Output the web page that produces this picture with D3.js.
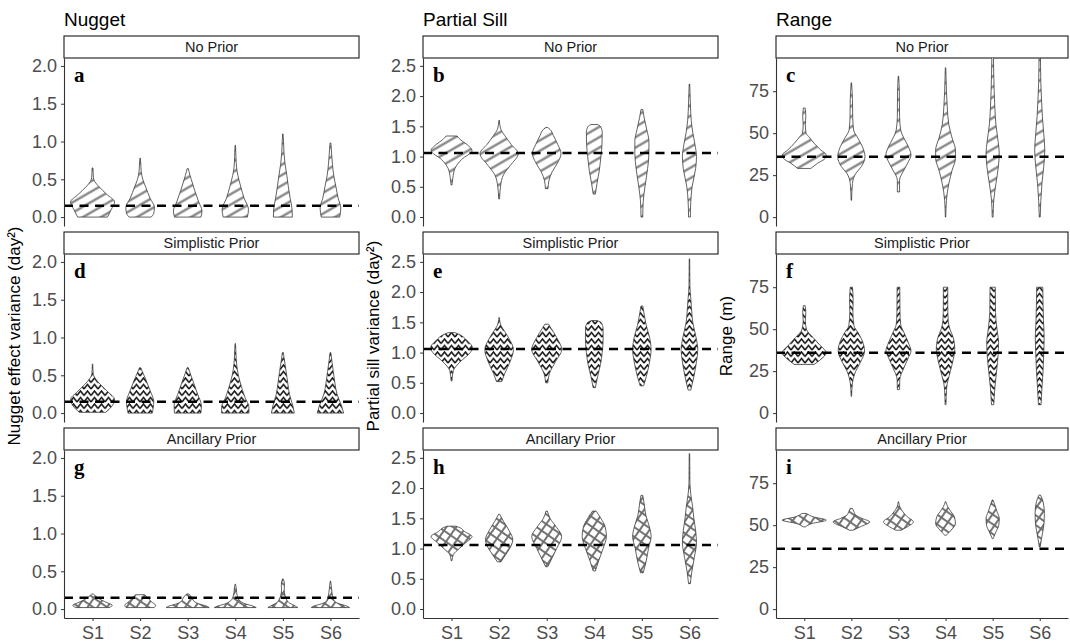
<!DOCTYPE html>
<html>
<head>
<meta charset="utf-8">
<script src="https://cdn.jsdelivr.net/npm/d3@7"></script>
<style>
body { margin: 0; background: #fff; }
</style>
</head>
<body>
<div id="chart"></div>
<script>

var sites = ["S1", "S2", "S3", "S4", "S5", "S6"];
var priors = ["No Prior", "Simplistic Prior", "Ancillary Prior"];
var params = ["Nugget", "Partial Sill", "Range"];
var axisTitles = ["Nugget effect variance (day\u00b2)", "Partial sill variance (day\u00b2)", "Range (m)"];
var yTicks = [[0, 0.5, 1, 1.5, 2], [0, 0.5, 1, 1.5, 2, 2.5], [0, 25, 50, 75]];
var yDomains = [[-0.118, 2.105], [-0.148, 2.63], [-5.3, 94.8]];
var trueValues = [0.15, 1.06, 36];
var letters = [["a", "d", "g"], ["b", "e", "h"], ["c", "f", "i"]];

// violin outlines, one per site: [value, relative half width]
var nuggetNo = [
    [[0,0.68],[0.1,0.85],[0.2,1.0],[0.3,0.65],[0.4,0.3],[0.47,0.1],[0.52,0.04],[0.65,0.02]],
    [[0,0.5],[0.05,0.62],[0.13,0.65],[0.25,0.45],[0.4,0.25],[0.5,0.12],[0.6,0.05],[0.7,0.03],[0.78,0.01]],
    [[0,0.6],[0.08,0.65],[0.2,0.5],[0.35,0.32],[0.5,0.16],[0.6,0.06],[0.64,0.03]],
    [[0,0.55],[0.1,0.6],[0.25,0.4],[0.4,0.25],[0.55,0.12],[0.65,0.06],[0.8,0.03],[0.95,0.01]],
    [[0,0.43],[0.1,0.42],[0.25,0.33],[0.4,0.25],[0.55,0.18],[0.7,0.1],[0.85,0.05],[1.0,0.03],[1.1,0.01]],
    [[0,0.42],[0.12,0.47],[0.25,0.35],[0.4,0.25],[0.55,0.15],[0.7,0.09],[0.85,0.05],[0.98,0.02]]
];
var nuggetSimple = [
    [[0.01,0.6],[0.08,0.85],[0.18,1.0],[0.28,0.7],[0.38,0.35],[0.46,0.12],[0.52,0.03],[0.65,0.01]],
    [[0,0.55],[0.15,0.62],[0.3,0.45],[0.45,0.25],[0.55,0.1],[0.6,0.03]],
    [[0,0.6],[0.1,0.62],[0.25,0.45],[0.4,0.27],[0.52,0.12],[0.6,0.03]],
    [[0,0.62],[0.08,0.62],[0.2,0.45],[0.35,0.28],[0.5,0.14],[0.65,0.06],[0.8,0.03],[0.92,0.01]],
    [[0,0.52],[0.1,0.45],[0.25,0.3],[0.4,0.22],[0.55,0.15],[0.7,0.07],[0.8,0.02]],
    [[0,0.6],[0.1,0.5],[0.25,0.3],[0.4,0.2],[0.55,0.13],[0.7,0.06],[0.8,0.02]]
];
var nuggetAnc = [
    [[0.02,0.75],[0.05,0.9],[0.08,0.7],[0.12,0.4],[0.17,0.15],[0.2,0.03]],
    [[0.02,0.64],[0.05,0.7],[0.1,0.5],[0.15,0.35],[0.19,0.2]],
    [[0.02,0.98],[0.04,0.85],[0.07,0.5],[0.1,0.3],[0.15,0.2],[0.2,0.05]],
    [[0.02,0.95],[0.04,0.8],[0.07,0.45],[0.1,0.25],[0.15,0.12],[0.22,0.06],[0.28,0.04],[0.33,0.01]],
    [[0.02,0.68],[0.05,0.5],[0.08,0.3],[0.12,0.18],[0.18,0.1],[0.25,0.06],[0.32,0.07],[0.37,0.05],[0.4,0.01]],
    [[0.02,0.87],[0.04,0.75],[0.07,0.4],[0.1,0.2],[0.15,0.12],[0.22,0.07],[0.3,0.04],[0.37,0.01]]
];
var sillNo = [
    [[0.53,0.02],[0.65,0.06],[0.8,0.15],[0.95,0.45],[1.1,0.93],[1.2,0.7],[1.28,0.4],[1.34,0.25]],
    [[0.3,0.02],[0.5,0.06],[0.7,0.2],[0.85,0.5],[1.05,0.87],[1.2,0.55],[1.35,0.25],[1.45,0.08],[1.6,0.01]],
    [[0.47,0.06],[0.6,0.1],[0.75,0.25],[0.9,0.5],[1.05,0.65],[1.2,0.5],[1.35,0.3],[1.45,0.15],[1.48,0.05]],
    [[0.38,0.05],[0.55,0.12],[0.75,0.22],[1.0,0.3],[1.2,0.35],[1.4,0.36],[1.5,0.28],[1.53,0.15]],
    [[0,0.04],[0.25,0.06],[0.5,0.14],[0.8,0.26],[1.05,0.32],[1.25,0.32],[1.45,0.22],[1.65,0.1],[1.78,0.04]],
    [[0,0.04],[0.25,0.06],[0.5,0.12],[0.8,0.28],[1.0,0.32],[1.2,0.25],[1.4,0.15],[1.6,0.08],[1.9,0.04],[2.2,0.01]]
];
var sillSimple = [
    [[0.53,0.02],[0.7,0.08],[0.85,0.4],[1.0,0.85],[1.08,0.95],[1.2,0.7],[1.3,0.35],[1.33,0.15]],
    [[0.52,0.12],[0.65,0.25],[0.85,0.5],[1.05,0.65],[1.2,0.5],[1.35,0.25],[1.45,0.08],[1.58,0.01]],
    [[0.5,0.05],[0.65,0.12],[0.85,0.4],[1.05,0.68],[1.25,0.45],[1.4,0.2],[1.47,0.08]],
    [[0.42,0.05],[0.6,0.15],[0.8,0.28],[1.0,0.36],[1.2,0.4],[1.4,0.4],[1.5,0.3],[1.53,0.12]],
    [[0.45,0.08],[0.6,0.2],[0.85,0.35],[1.05,0.42],[1.25,0.35],[1.45,0.2],[1.6,0.12],[1.77,0.04]],
    [[0.38,0.06],[0.6,0.2],[0.85,0.32],[1.05,0.38],[1.25,0.3],[1.5,0.15],[1.7,0.1],[1.9,0.06],[2.1,0.02],[2.55,0.01]]
];
var sillAnc = [
    [[0.8,0.02],[0.9,0.08],[1.0,0.35],[1.1,0.65],[1.2,0.93],[1.28,0.6],[1.35,0.35],[1.37,0.2]],
    [[0.78,0.08],[0.9,0.3],[1.05,0.55],[1.15,0.62],[1.3,0.45],[1.45,0.2],[1.57,0.02]],
    [[0.7,0.05],[0.85,0.25],[1.0,0.45],[1.2,0.68],[1.35,0.45],[1.5,0.15],[1.62,0.03]],
    [[0.63,0.05],[0.8,0.2],[1.0,0.4],[1.2,0.55],[1.35,0.5],[1.5,0.3],[1.62,0.08]],
    [[0.6,0.06],[0.8,0.2],[1.0,0.3],[1.2,0.42],[1.35,0.35],[1.55,0.18],[1.75,0.1],[1.88,0.04]],
    [[0.42,0.04],[0.6,0.1],[0.85,0.22],[1.1,0.32],[1.3,0.28],[1.5,0.2],[1.7,0.14],[1.9,0.06],[2.1,0.02],[2.57,0.01]]
];
var rangeNo = [
    [[29,0.3],[32,0.6],[35,0.95],[37,1.0],[40,0.75],[44,0.45],[48,0.2],[50,0.08],[55,0.05],[60,0.07],[65,0.04]],
    [[10,0.01],[20,0.05],[26,0.2],[30,0.45],[36,0.62],[42,0.5],[47,0.3],[52,0.1],[60,0.06],[70,0.05],[80,0.01]],
    [[15,0.05],[22,0.05],[28,0.25],[33,0.45],[37,0.57],[42,0.45],[47,0.25],[52,0.1],[60,0.05],[75,0.04],[84,0.01]],
    [[0,0.01],[10,0.04],[20,0.15],[28,0.3],[35,0.45],[40,0.45],[47,0.3],[55,0.15],[65,0.08],[75,0.04],[89,0.01]],
    [[0,0.02],[10,0.05],[20,0.15],[30,0.26],[38,0.3],[45,0.25],[55,0.15],[65,0.1],[75,0.07],[85,0.05],[100,0.03]],
    [[0,0.02],[10,0.05],[20,0.1],[30,0.18],[40,0.23],[50,0.18],[60,0.12],[70,0.08],[80,0.05],[100,0.03]]
];
var rangeSimple = [
    [[29,0.45],[32,0.75],[36,1.0],[40,0.75],[45,0.4],[50,0.1],[55,0.05],[60,0.07],[64,0.04]],
    [[10,0.01],[18,0.05],[25,0.2],[30,0.4],[37,0.6],[43,0.5],[48,0.3],[52,0.12],[60,0.07],[68,0.08],[75,0.05]],
    [[14,0.05],[20,0.06],[27,0.25],[33,0.45],[37,0.57],[42,0.45],[48,0.25],[53,0.1],[60,0.07],[75,0.06]],
    [[5,0.02],[15,0.05],[25,0.22],[32,0.35],[38,0.42],[45,0.35],[50,0.2],[55,0.12],[65,0.1],[75,0.1]],
    [[5,0.05],[15,0.1],[25,0.18],[35,0.25],[42,0.27],[50,0.2],[60,0.13],[75,0.12]],
    [[5,0.06],[15,0.1],[25,0.15],[35,0.18],[45,0.2],[55,0.17],[65,0.15],[75,0.14]]
];
var rangeAnc = [
    [[49,0.05],[51,0.35],[53,1.0],[55,0.4],[57,0.1]],
    [[47,0.08],[49,0.4],[52,0.83],[54,0.5],[56,0.2],[58,0.12],[60,0.05]],
    [[47,0.12],[49,0.4],[52,0.68],[55,0.4],[58,0.2],[61,0.06],[64,0.01]],
    [[44,0.03],[47,0.25],[51,0.45],[55,0.4],[58,0.25],[61,0.1],[64,0.01]],
    [[42,0.02],[46,0.15],[50,0.28],[54,0.3],[58,0.2],[62,0.1],[65,0.02]],
    [[37,0.02],[42,0.08],[47,0.15],[52,0.2],[57,0.21],[62,0.18],[66,0.1],[68,0.03]]
];

var violins = [
    [nuggetNo, nuggetSimple, nuggetAnc],
    [sillNo, sillSimple, sillAnc],
    [rangeNo, rangeSimple, rangeAnc]
];

var width = 1070, height = 642;
var cols = [{left: 64, width: 295}, {left: 423, width: 295}, {left: 776, width: 292}];
var rowTops = [36, 232, 428];
var stripH = 22, panelH = 168;
var fills = ["url(#stripes)", "url(#zigzag)", "url(#hatch)"];
var sans = "'Liberation Sans', Arial, sans-serif";
var serif = "'Liberation Serif', 'DejaVu Serif', serif";

var svg = d3.select("#chart")
    .append("svg")
    .attr("width", width)
    .attr("height", height)
    .style("font-family", sans);

// fill patterns
var defs = svg.append("defs");

var p1 = defs.append("pattern")
    .attr("id", "stripes")
    .attr("patternUnits", "userSpaceOnUse")
    .attr("width", 10).attr("height", 9)
    .attr("patternTransform", "rotate(-30)");
p1.append("rect").attr("width", 10).attr("height", 9).attr("fill", "#fff");
p1.append("line").attr("x1", 0).attr("x2", 10).attr("y1", 4.5).attr("y2", 4.5)
    .attr("stroke", "#7d7d7d").attr("stroke-width", 2.2);

var p2 = defs.append("pattern")
    .attr("id", "zigzag")
    .attr("patternUnits", "userSpaceOnUse")
    .attr("width", 7).attr("height", 6.5);
p2.append("rect").attr("width", 7).attr("height", 6.5).attr("fill", "#fff");
p2.append("path").attr("d", "M0,5.5 L3.5,1 L7,5.5")
    .attr("fill", "none").attr("stroke", "#111").attr("stroke-width", 1.5);

var p3 = defs.append("pattern")
    .attr("id", "hatch")
    .attr("patternUnits", "userSpaceOnUse")
    .attr("width", 8).attr("height", 8)
    .attr("patternTransform", "rotate(35)");
p3.append("rect").attr("width", 8).attr("height", 8).attr("fill", "#fff");
p3.append("line").attr("x1", 0).attr("x2", 8).attr("y1", 4).attr("y2", 4)
    .attr("stroke", "#6e6e6e").attr("stroke-width", 1.9);
p3.append("line").attr("x1", 4).attr("x2", 4).attr("y1", 0).attr("y2", 8)
    .attr("stroke", "#6e6e6e").attr("stroke-width", 1.9);

cols.forEach(function(col, c) {

    // column title
    svg.append("text")
        .attr("x", col.left)
        .attr("y", 26)
        .attr("font-size", 19)
        .attr("fill", "#000")
        .text(params[c]);

    // y axis title
    svg.append("text")
        .attr("transform", "translate(" + (col.left - 44) + ",336) rotate(-90)")
        .attr("text-anchor", "middle")
        .attr("font-size", 17)
        .attr("fill", "#000")
        .text(axisTitles[c]);

    var x = d3.scalePoint()
        .domain(sites)
        .range([col.left, col.left + col.width])
        .padding(0.6);

    var w = d3.scaleLinear()
        .domain([0, 1])
        .range([0, 22]);

    rowTops.forEach(function(top, r) {
        var pTop = top + stripH;

        var y = d3.scaleLinear()
            .domain(yDomains[c])
            .range([pTop + panelH, pTop]);

        // strip
        svg.append("rect")
            .attr("x", col.left).attr("y", top)
            .attr("width", col.width).attr("height", stripH)
            .attr("fill", "#fff").attr("stroke", "#1a1a1a").attr("stroke-width", 1.1);
        svg.append("text")
            .attr("x", col.left + col.width / 2)
            .attr("y", top + 16)
            .attr("text-anchor", "middle")
            .attr("font-size", 14.5)
            .attr("fill", "#1a1a1a")
            .text(priors[r]);

        var clipId = "clip" + c + r;
        defs.append("clipPath").attr("id", clipId)
            .append("rect")
            .attr("x", col.left).attr("y", pTop)
            .attr("width", col.width).attr("height", panelH);

        var g = svg.append("g").attr("clip-path", "url(#" + clipId + ")");

        var area = d3.area()
            .curve(d3.curveMonotoneY)
            .y(function(d) { return y(d[0]); });

        g.selectAll("path.violin")
            .data(violins[c][r])
            .enter()
            .append("path")
                .attr("class", "violin")
                .attr("d", function(d, i) {
                    var cx = x(sites[i]);
                    return area
                        .x0(function(p) { return cx - w(p[1]); })
                        .x1(function(p) { return cx + w(p[1]); })(d);
                })
                .attr("fill", fills[r])
                .attr("stroke", "#3a3a3a")
                .attr("stroke-width", 0.8);

        // true value line
        g.append("line")
            .attr("x1", col.left).attr("x2", col.left + col.width)
            .attr("y1", y(trueValues[c])).attr("y2", y(trueValues[c]))
            .attr("stroke", "#000")
            .attr("stroke-width", 2.4)
            .attr("stroke-dasharray", "9,6.5");

        // panel letter
        svg.append("text")
            .attr("x", col.left + 10)
            .attr("y", pTop + 24)
            .style("font-family", serif)
            .attr("font-weight", "bold")
            .attr("font-size", 21)
            .attr("fill", "#000")
            .text(letters[c][r]);

        // y axis
        var yAxis = d3.axisLeft(y)
            .tickValues(yTicks[c])
            .tickSize(3)
            .tickSizeOuter(0)
            .tickPadding(4)
            .tickFormat(c === 2 ? d3.format("d") : d3.format(".1f"));

        var ya = svg.append("g")
            .attr("transform", "translate(" + col.left + ",0)")
            .call(yAxis)
            .attr("font-family", null);
        ya.select(".domain").attr("stroke", "#333").attr("stroke-width", 1.1);
        ya.selectAll(".tick line").attr("stroke", "#333");
        ya.selectAll(".tick text")
            .style("font-family", sans)
            .style("font-size", "18px")
            .attr("fill", "#4d4d4d");

        // x axis on bottom row
        if (r === 2) {
            var xAxis = d3.axisBottom(x)
                .tickSize(3)
                .tickSizeOuter(0)
                .tickPadding(5);
            var xa = svg.append("g")
                .attr("transform", "translate(0," + (pTop + panelH) + ")")
                .call(xAxis);
            xa.select(".domain").attr("stroke", "#333").attr("stroke-width", 1.1);
            xa.selectAll(".tick line").attr("stroke", "#333");
            xa.selectAll(".tick text")
                .style("font-family", sans)
                .style("font-size", "18px")
                .attr("fill", "#4d4d4d");
        }
    });
});

</script>
</body>
</html>
